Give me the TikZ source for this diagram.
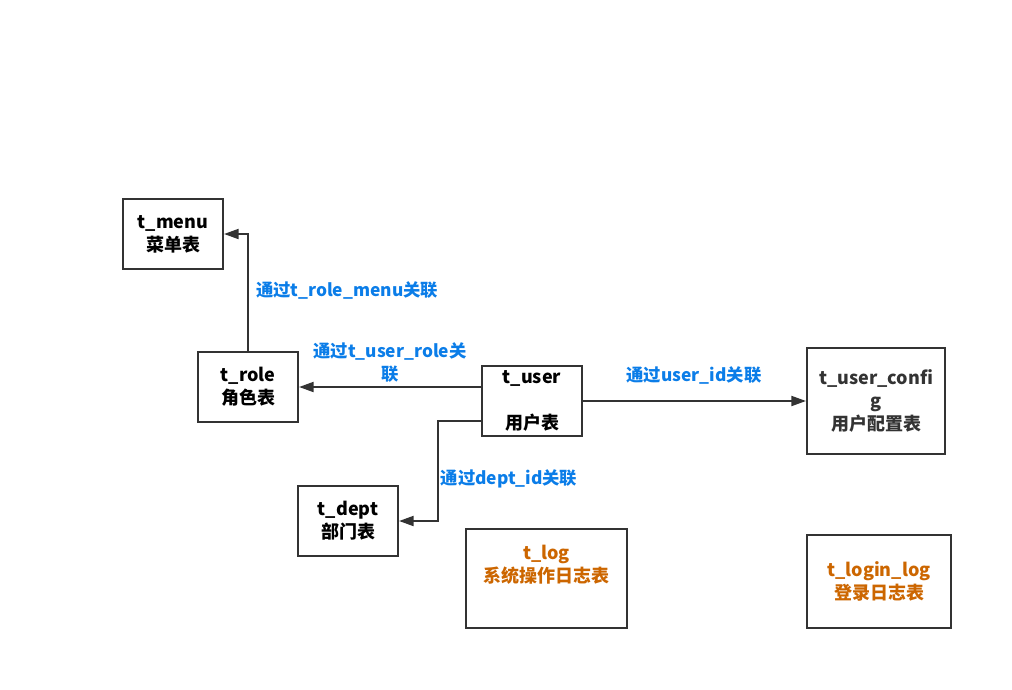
\documentclass[tikz,border=0pt]{standalone}
\usepackage{fontspec}
\setmainfont{Noto Sans CJK SC}
\usepackage{tikz}
\usetikzlibrary{positioning}
\usetikzlibrary{arrows.meta}
\definecolor{boxgray}{HTML}{333333}
\definecolor{linkblue}{HTML}{0B7DE8}
\definecolor{logorange}{HTML}{CC6600}

\begin{document}
\begin{tikzpicture}[x=0.75pt,y=-0.75pt,
  tbl/.style={draw=boxgray,line width=1.5pt,align=center,font=\fontsize{13.5}{17.25}\selectfont\bfseries,minimum width=75pt,minimum height=52.5pt,inner sep=0pt},
  via/.style={text=linkblue,align=center,font=\fontsize{13}{17.25}\selectfont\bfseries,inner sep=0pt},
  lnk/.style={-{Triangle[length=11pt,width=7.5pt]},color=boxgray,line width=1.5pt}]
\useasboundingbox (0,0) rectangle (1012,689);

\node(menu)[tbl] at (173,234) {t\_menu\\菜单表};
\node(role)[tbl] at (248,387) {t\_role\\角色表};
\node(user)[tbl] at (532,401) {t\_user\\\strut\\用户表};
\node(config)[tbl,minimum width=103.5pt,minimum height=79.5pt,text=boxgray] at (876,401) {t\_user\_confi\\g\\用户配置表};
\node(dept)[tbl] at (348,521) {t\_dept\\部门表};
\node(log)[tbl,minimum width=120.75pt,minimum height=74.25pt,text=logorange] at (546.5,578.5) {t\_log\\系统操作日志表\\\strut};
\node(loginlog)[tbl,minimum width=108pt,minimum height=69.75pt,text=logorange] at (879,581.5) {t\_login\_log\\登录日志表};

\node(rm)[via] at (347,290) {通过t\_role\_menu关联};
\node(ur)[via] at (390,362.5) {通过t\_user\_role关\\联};
\node(ui)[via] at (694,375) {通过user\_id关联};
\node(di)[via] at (509,479) {通过dept\_id关联};

\draw[lnk] (role.north) |- (menu.east);
\draw[lnk] (user.west |- role.east) -- (role.east);
\draw[lnk] ([yshift=-15pt]user.west) -- ++(-43,0) |- (dept.east);
\draw[lnk] (user.east) -- (config.west);
\end{tikzpicture}
\end{document}
